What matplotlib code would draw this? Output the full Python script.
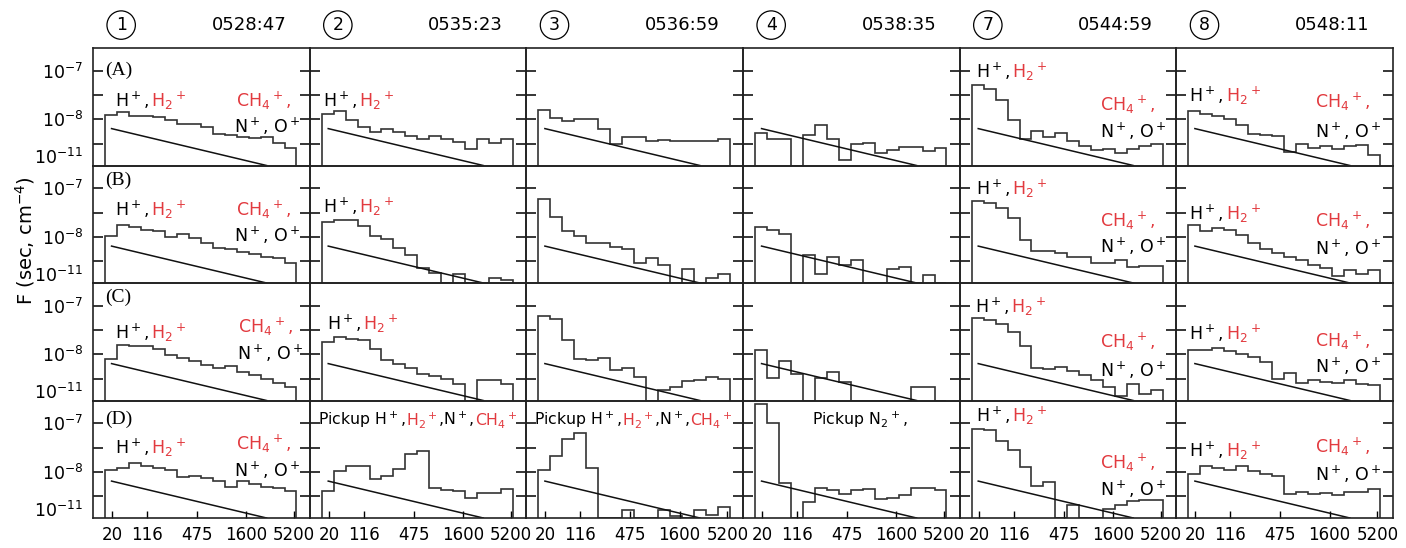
import matplotlib
matplotlib.use('Agg')
import matplotlib.pyplot as plt
import matplotlib.transforms as mtransforms

# energy channel edges (16 channels) and the bottom tick labels
edges = list(range(17))
xtick_pos = [0.6, 3.5, 7.7, 11.8, 15.8]
xtick_labels = ['20', '116', '475', '1600', '5200']

# y axis in tick units (0 = bottom of each panel)
ytick_pos = [0.9, 1.9, 2.9, 3.9]
ytick_labels = ['', '$10^{-8}$', '', '$10^{-7}$']
low_label_pos = 0.38
low_label = '$10^{-11}$'

# reference line drawn in every panel
line_x = [0.55, 13.5]
line_y = [1.52, 0.0]

scan_ids = ['1', '2', '3', '4', '7', '8']
scan_times = ['0528:47', '0535:23', '0536:59', '0538:35', '0544:59', '0548:11']
row_names = ['(A)', '(B)', '(C)', '(D)']

# spectra per panel (row letter + scan number)
A1 = [2.09, 2.19, 2.03, 2.03, 2.00, 1.89, 1.73, 1.69, 1.59, 1.31, 1.24, 1.18, 1.15, 1.19, 0.91, 0.74]
A2 = [2.12, 2.23, 1.89, 1.58, 1.39, 1.49, 1.39, 1.22, 1.08, 1.22, 1.08, 0.95, 0.68, 1.08, 0.92, 1.11]
A3 = [2.30, 1.96, 1.82, 1.93, 1.90, 1.49, 0.88, 1.18, 1.18, 1.01, 1.05, 1.01, 1.01, 1.01, 1.01, 1.11]
A4 = [1.35, 1.11, 1.11, 0.00, 1.24, 1.66, 1.08, 0.23, 0.88, 0.92, 0.51, 0.65, 0.77, 0.77, 0.61, 0.74]
A7 = [3.31, 3.14, 2.70, 1.89, 1.08, 1.42, 1.19, 1.32, 1.01, 0.81, 0.65, 0.70, 0.50, 0.68, 0.81, 0.88]
A8 = [2.23, 2.12, 2.03, 1.93, 1.65, 1.28, 1.25, 1.20, 0.54, 0.88, 0.74, 0.81, 0.68, 0.81, 0.84, 0.45]

B1 = [1.92, 2.38, 2.31, 2.17, 2.15, 1.88, 2.01, 1.85, 1.64, 1.46, 1.39, 1.26, 1.18, 1.08, 1.01, 0.81]
B2 = [2.50, 2.61, 2.61, 2.33, 1.92, 1.81, 1.43, 1.15, 0.60, 0.42, 0.00, 0.36, 0.00, 0.00, 0.21, 0.11]
B3 = [3.47, 2.72, 2.13, 1.92, 1.64, 1.64, 1.47, 1.40, 0.81, 1.01, 0.74, 0.00, 0.57, 0.00, 0.21, 0.39]
B4 = [2.31, 2.19, 2.01, 0.00, 1.15, 0.39, 1.08, 0.74, 0.94, 0.00, 0.00, 0.56, 0.67, 0.00, 0.35, 0.00]
B7 = [3.38, 3.31, 3.10, 2.68, 1.78, 1.33, 1.33, 1.22, 1.08, 1.08, 0.81, 0.81, 0.94, 0.67, 0.71, 0.69]
B8 = [2.40, 2.13, 2.26, 2.19, 1.99, 1.64, 1.40, 1.22, 1.08, 0.94, 0.74, 0.60, 0.28, 0.53, 0.39, 0.53]

C1 = [1.73, 2.27, 2.23, 2.23, 2.11, 1.89, 1.75, 1.62, 1.48, 1.34, 1.42, 1.18, 1.04, 0.90, 0.74, 0.56]
C2 = [2.41, 2.62, 2.55, 2.51, 2.14, 1.66, 1.52, 1.32, 1.11, 1.00, 0.88, 0.66, 0.00, 0.86, 0.86, 0.66]
C3 = [3.47, 3.37, 2.48, 1.73, 1.66, 1.75, 1.25, 1.32, 0.95, 0.00, 0.45, 0.56, 0.79, 0.86, 0.95, 0.88]
C4 = [2.07, 0.93, 1.62, 1.08, 0.00, 0.93, 1.18, 0.77, 0.00, 0.00, 0.00, 0.00, 0.00, 0.56, 0.56, 0.00]
C7 = [3.40, 3.30, 3.14, 2.82, 2.23, 1.34, 1.29, 1.36, 1.21, 1.07, 0.84, 0.56, 0.19, 0.66, 0.26, 0.42]
C8 = [2.07, 2.07, 2.18, 2.03, 1.93, 1.79, 1.59, 0.90, 1.14, 0.74, 0.84, 0.77, 0.74, 0.86, 0.66, 0.63]

D1 = [1.96, 2.06, 2.26, 2.15, 2.06, 1.96, 1.67, 1.71, 1.64, 1.54, 1.26, 1.54, 1.40, 1.26, 1.22, 1.11]
D2 = [1.13, 1.92, 2.13, 2.13, 1.60, 1.74, 2.01, 2.65, 2.75, 1.22, 1.15, 1.11, 0.81, 1.04, 1.01, 1.19]
D3 = [1.99, 2.54, 3.26, 3.51, 2.06, 0.00, 0.00, 0.32, 0.00, 0.00, 0.35, 0.10, 0.00, 0.32, 0.11, 0.46]
D4 = [4.69, 3.93, 1.43, 0.00, 0.67, 1.22, 1.15, 0.97, 1.15, 1.19, 0.78, 0.81, 0.94, 1.22, 1.25, 1.15]
D7 = [3.68, 3.61, 3.19, 2.82, 2.10, 1.32, 1.47, 0.00, 0.53, 0.00, 0.00, 0.39, 0.53, 0.71, 0.74, 0.74]
D8 = [1.81, 2.13, 2.06, 1.99, 2.13, 1.92, 1.82, 1.71, 0.99, 1.08, 0.97, 1.01, 0.94, 1.06, 1.08, 1.18]

spectra = [[A1, A2, A3, A4, A7, A8],
           [B1, B2, B3, B4, B7, B8],
           [C1, C2, C3, C4, C7, C8],
           [D1, D2, D3, D4, D7, D8]]

RED = '#e23a3f'
FS = 12.5

# ion label pieces (subscript first, then superscript, like H2+)
H_LABEL = [('H$^+$, ', 'black'), ('H$_2$$^+$', RED)]
CH4_LABEL = [('CH$_4$$^+$,', RED)]
NO_LABEL = [('N$^+$, O$^+$', 'black')]
PICKUP_LABEL = [('Pickup H$^+$,', 'black'), ('H$_2$$^+$', RED), (',N$^+$,', 'black'), ('CH$_4$$^+$', RED)]
PICKUP_N2 = [('Pickup N$_2$$^+$,', 'black')]

# (row, col) -> list of (pieces, x, y_center, size) in axes fraction
labels = {
    (0, 0): [(H_LABEL, 0.10, 0.55), (CH4_LABEL, 0.66, 0.55), (NO_LABEL, 0.65, 0.33)],
    (0, 1): [(H_LABEL, 0.06, 0.55)],
    (0, 4): [(H_LABEL, 0.075, 0.80), (CH4_LABEL, 0.65, 0.52), (NO_LABEL, 0.65, 0.29)],
    (0, 5): [(H_LABEL, 0.06, 0.59), (CH4_LABEL, 0.64, 0.54), (NO_LABEL, 0.64, 0.29)],
    (1, 0): [(H_LABEL, 0.10, 0.62), (CH4_LABEL, 0.66, 0.62), (NO_LABEL, 0.65, 0.40)],
    (1, 1): [(H_LABEL, 0.06, 0.65)],
    (1, 4): [(H_LABEL, 0.075, 0.80), (CH4_LABEL, 0.65, 0.53), (NO_LABEL, 0.65, 0.31)],
    (1, 5): [(H_LABEL, 0.06, 0.59), (CH4_LABEL, 0.64, 0.53), (NO_LABEL, 0.64, 0.29)],
    (2, 0): [(H_LABEL, 0.10, 0.58), (CH4_LABEL, 0.67, 0.63), (NO_LABEL, 0.665, 0.40)],
    (2, 1): [(H_LABEL, 0.08, 0.65)],
    (2, 4): [(H_LABEL, 0.07, 0.80), (CH4_LABEL, 0.65, 0.50), (NO_LABEL, 0.65, 0.25)],
    (2, 5): [(H_LABEL, 0.06, 0.57), (CH4_LABEL, 0.64, 0.51), (NO_LABEL, 0.64, 0.29)],
    (3, 0): [(H_LABEL, 0.10, 0.60), (CH4_LABEL, 0.66, 0.63), (NO_LABEL, 0.65, 0.40)],
    (3, 1): [(PICKUP_LABEL, 0.04, 0.84)],
    (3, 2): [(PICKUP_LABEL, 0.035, 0.84)],
    (3, 3): [(PICKUP_N2, 0.32, 0.84)],
    (3, 4): [(H_LABEL, 0.075, 0.87), (CH4_LABEL, 0.65, 0.47), (NO_LABEL, 0.65, 0.24)],
    (3, 5): [(H_LABEL, 0.06, 0.57), (CH4_LABEL, 0.64, 0.61), (NO_LABEL, 0.64, 0.37)],
}
letter_y = [0.81, 0.87, 0.88, 0.84]

fig = plt.figure(figsize=(14.06, 5.48), dpi=100)
axes = fig.subplots(4, 6, gridspec_kw=dict(left=93 / 1406, right=1393 / 1406,
                                           top=1 - 48 / 548, bottom=1 - 518 / 548,
                                           wspace=0, hspace=0))
renderer = fig.canvas.get_renderer()


def put_label(ax, pieces, x, y, size):
    # draw coloured pieces one after the other on a common baseline
    dx = 0
    for s, c in pieces:
        tr = mtransforms.offset_copy(ax.transAxes, fig=fig, x=dx, y=0, units='dots')
        t = ax.text(x, y - 0.05, s, color=c, fontsize=size, va='baseline', ha='left',
                    transform=tr, clip_on=False)
        dx += t.get_window_extent(renderer).width


for r in range(4):
    for c in range(6):
        ax = axes[r, c]
        ax.set_facecolor('none')
        ax.stairs(spectra[r][c], edges, baseline=0, color='#333333', lw=1.2)
        ax.plot(line_x, line_y, color='#111111', lw=1.1)
        ax.set_xlim(-1.0, 17.1)
        ax.set_ylim(0, 4.84)
        for sp in ax.spines.values():
            sp.set_linewidth(1.2)
            sp.set_color('#222222')

        ax.set_yticks(ytick_pos)
        ax.tick_params(axis='y', which='major', direction='in', length=7, width=1.1,
                       left=True, right=True, labelsize=FS, pad=7)
        if c == 0:
            ax.set_yticklabels(ytick_labels)
            ax.set_yticks([low_label_pos], [low_label], minor=True)
            ax.tick_params(axis='y', which='minor', length=0, labelsize=FS, pad=7)
            ax.text(0.055, letter_y[r], row_names[r], transform=ax.transAxes,
                    family='Liberation Serif', fontsize=14, va='center', ha='left')
        else:
            ax.set_yticklabels([])

        if r == 3:
            ax.set_xticks(xtick_pos, xtick_labels)
            ax.tick_params(axis='x', direction='in', length=5, width=1.0,
                           labelsize=FS - 0.5, pad=6)
        else:
            ax.set_xticks([])

        if r == 0:
            ax.text(0.13, 1.195, scan_ids[c], transform=ax.transAxes, fontsize=FS,
                    ha='center', va='center',
                    bbox=dict(boxstyle='circle,pad=0.3', fc='none', ec='black', lw=0.9))
            ax.text(0.72, 1.195, scan_times[c], transform=ax.transAxes, fontsize=FS + 0.5,
                    ha='center', va='center')

        for pieces, x, y in labels.get((r, c), []):
            size = 11.3 if pieces in (PICKUP_LABEL, PICKUP_N2) else FS
            put_label(ax, pieces, x, y, size)

fig.text(25 / 1406, 1 - 241 / 548, 'F (sec, cm$^{-4}$)', rotation=90,
         fontsize=14, ha='center', va='center')

fig.savefig('out.png', dpi=100)
